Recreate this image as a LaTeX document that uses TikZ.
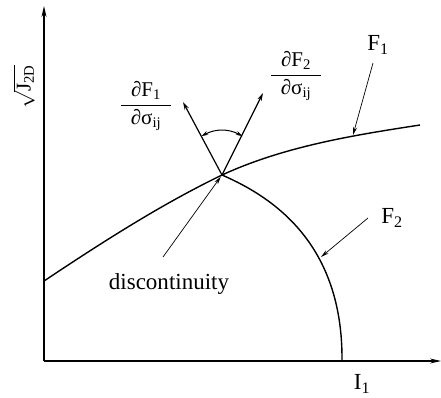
\documentclass[tikz,border=0pt]{standalone}
\usepackage{amsmath}
\usepackage{fontspec}
\setmainfont{Liberation Serif}
\usetikzlibrary{arrows.meta,calc}

\begin{document}
\begin{tikzpicture}[x=1pt,y=-1pt,
  curve/.style={line width=1.4pt},
  normal/.style={line width=1.2pt,-{Stealth[length=8pt,width=4.5pt]}},
  pointer/.style={line width=0.7pt,-{Stealth[length=8pt,width=4pt]}},
  lbl/.style={font=\fontsize{23}{25}\selectfont,inner sep=0pt},
  frac/.style={font=\fontsize{21}{23}\selectfont,inner sep=0pt}]
\useasboundingbox (0,0) rectangle (441,397);
% axes
\coordinate (O) at (44,361);
\coordinate (ytip) at (44,6);
\coordinate (xtip) at (441,361);
\draw[curve,-{Stealth[length=11pt,width=5pt]}] (O)--(ytip);
\draw[curve,-{Stealth[length=11pt,width=5pt]}] (O)--(xtip);
\node[frac,rotate=90] (ylbl) at (24,87) {$\sqrt{\text{J}_{\text{2D}}}$};
\node[lbl] (xlbl) at (362,384) {I\textsubscript{1}};
% yield surfaces
\coordinate (A) at (222,175);
\coordinate (F1start) at (44,281);
\coordinate (F1end) at (420,125);
\coordinate (F2end) at (342,361);
\draw[curve] (F1start) .. controls (104,241) and (162,204) .. (A)
  .. controls (285,146) and (355,135) .. (F1end);
\draw[curve] (A) .. controls (275,198) and (343,245) .. (F2end);
% normals and angle between them
\coordinate (n1) at (183,102);
\coordinate (n2) at (263,93);
\draw[normal] (A)--(n1);
\draw[normal] (A)--(n2);
\coordinate (angL) at (201.3,136.2);
\coordinate (angR) at (242.7,136.2);
\draw[line width=1pt,{Stealth[length=7pt,width=4pt]}-{Stealth[length=7pt,width=4pt]}]
  (angL) to[bend left=28] (angR);
\node[frac] (dF1) at (146,106) {$\dfrac{\text{∂F}_{\text{1}}}{\makebox[50pt]{$\text{∂σ}_{\text{ij}}$}}$};
\node[frac] (dF2) at (296,76) {$\dfrac{\text{∂F}_{\text{2}}}{\makebox[50pt]{$\text{∂σ}_{\text{ij}}$}}$};
% labels with pointers
\node[lbl] (F1lbl) at (378,45) {F\textsubscript{1}};
\coordinate (F1from) at (373,63);
\coordinate (F1to) at (353,135);
\draw[pointer] (F1from)--(F1to);
\node[lbl] (F2lbl) at (392,218) {F\textsubscript{2}};
\coordinate (F2from) at (368,218);
\coordinate (F2to) at (321,257);
\draw[pointer] (F2from)--(F2to);
\node[lbl] (disc) at (169,284) {discontinuity};
\coordinate (dfrom) at (163,257);
\draw[pointer,shorten >=2pt] (dfrom)--(A);
\end{tikzpicture}
\end{document}
